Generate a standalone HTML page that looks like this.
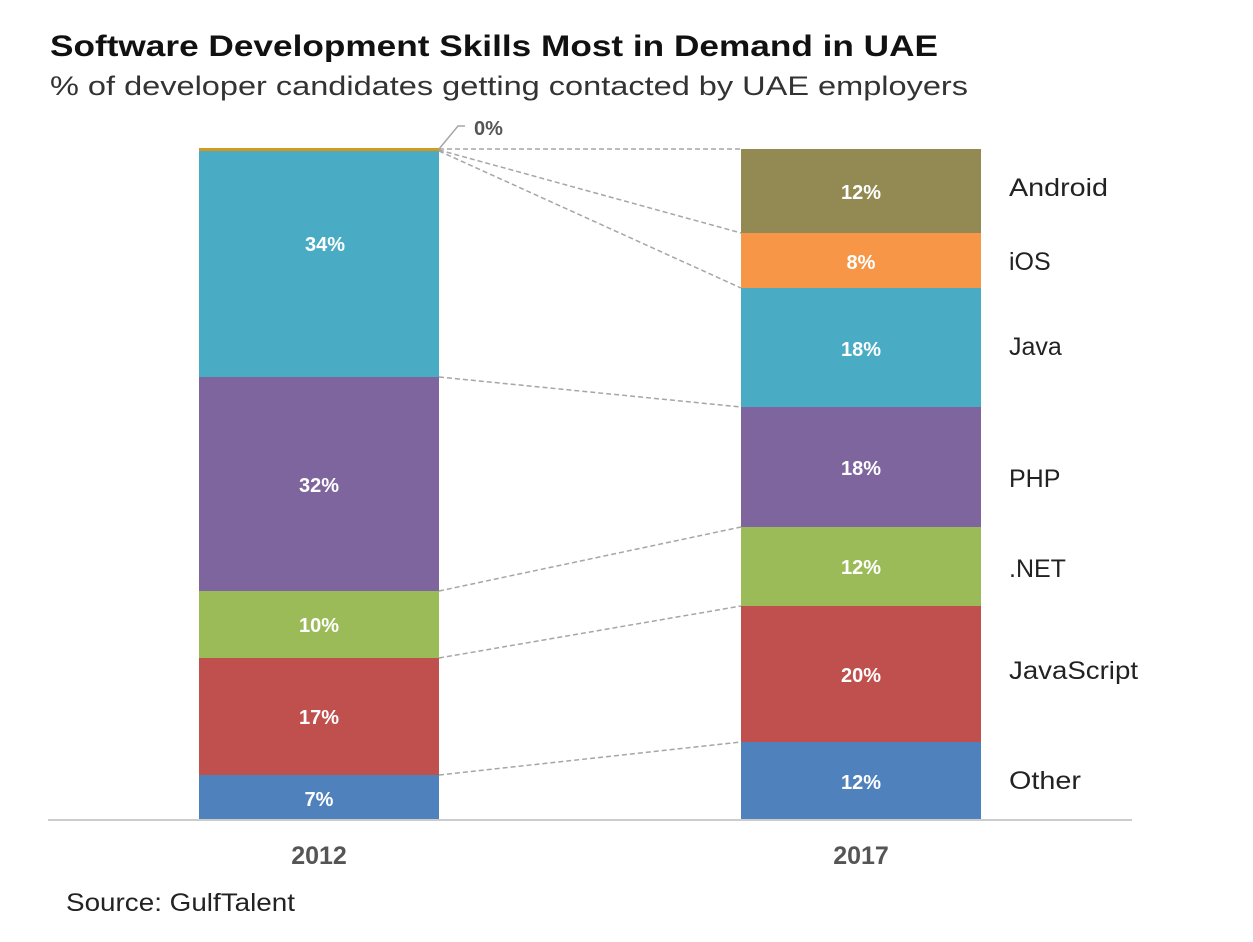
<!DOCTYPE html>
<html><head><style>body{margin:0;background:#fff}</style></head><body>
<svg width="1253" height="937" xmlns="http://www.w3.org/2000/svg" font-family="Liberation Sans, sans-serif">
<rect width="1253" height="937" fill="#fff"/>
<text x="50" y="56" font-size="30" font-weight="bold" fill="#111" textLength="888" lengthAdjust="spacingAndGlyphs">Software Development Skills Most in Demand in UAE</text>
<text x="50" y="95" font-size="27" fill="#333" textLength="918" lengthAdjust="spacingAndGlyphs">% of developer candidates getting contacted by UAE employers</text>
<!-- 2012 -->
<rect x="199" y="148" width="240" height="3" fill="#d19a1c"/>
<rect x="199" y="151" width="240" height="226" fill="#4aabc4"/>
<rect x="199" y="377" width="240" height="214" fill="#7f659e"/>
<rect x="199" y="591" width="240" height="67" fill="#9bbb59"/>
<rect x="199" y="658" width="240" height="117" fill="#c0504d"/>
<rect x="199" y="775" width="240" height="45" fill="#4f81bd"/>
<!-- 2017 -->
<rect x="741" y="149" width="240" height="84" fill="#938953"/>
<rect x="741" y="233" width="240" height="55" fill="#f79646"/>
<rect x="741" y="288" width="240" height="119" fill="#4aabc4"/>
<rect x="741" y="407" width="240" height="120" fill="#7f659e"/>
<rect x="741" y="527" width="240" height="79" fill="#9bbb59"/>
<rect x="741" y="606" width="240" height="136" fill="#c0504d"/>
<rect x="741" y="742" width="240" height="78" fill="#4f81bd"/>
<g stroke="#a6a6a6" stroke-width="1.5" stroke-dasharray="5,3" fill="none">
<line x1="439" y1="149" x2="741" y2="149"/>
<line x1="439" y1="150" x2="741" y2="233"/>
<line x1="439" y1="151" x2="741" y2="288"/>
<line x1="439" y1="377" x2="741" y2="407"/>
<line x1="439" y1="591" x2="741" y2="527"/>
<line x1="439" y1="658" x2="741" y2="606"/>
<line x1="439" y1="775" x2="741" y2="742"/>
</g>
<polyline points="439,149 458,126 465,126" stroke="#a6a6a6" stroke-width="1.5" fill="none"/>
<text x="474" y="135" font-size="20" font-weight="bold" fill="#555">0%</text>
<line x1="48" y1="820" x2="1132" y2="820" stroke="#ccc" stroke-width="2"/>
<g font-size="20" font-weight="bold" fill="#fff" text-anchor="middle">
<text x="325" y="251">34%</text><text x="319" y="492">32%</text><text x="319" y="632">10%</text>
<text x="319" y="724">17%</text><text x="319" y="806">7%</text>
<text x="861" y="199">12%</text><text x="861" y="269">8%</text><text x="861" y="356">18%</text>
<text x="861" y="475">18%</text><text x="861" y="574">12%</text><text x="861" y="682">20%</text><text x="861" y="789">12%</text>
</g>
<g font-size="25" fill="#222">
<text x="1009" y="196" textLength="99" lengthAdjust="spacingAndGlyphs">Android</text><text x="1009" y="270">iOS</text><text x="1009" y="355">Java</text>
<text x="1009" y="487">PHP</text><text x="1009" y="577">.NET</text><text x="1009" y="679" textLength="129" lengthAdjust="spacingAndGlyphs">JavaScript</text><text x="1009" y="789" textLength="72" lengthAdjust="spacingAndGlyphs">Other</text>
</g>
<g font-size="25" font-weight="bold" fill="#555" text-anchor="middle">
<text x="319" y="864">2012</text><text x="861" y="864">2017</text>
</g>
<text x="66" y="911" font-size="25" fill="#222" textLength="229" lengthAdjust="spacingAndGlyphs">Source: GulfTalent</text>
</svg>
</body></html>
